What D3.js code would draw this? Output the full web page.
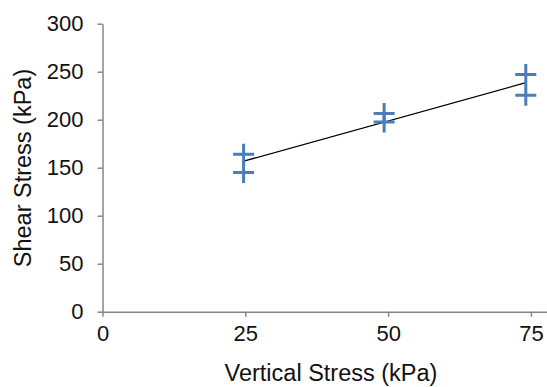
<!DOCTYPE html>
<html>
<head>
<meta charset="utf-8">
<script src="https://cdnjs.cloudflare.com/ajax/libs/d3/7.8.5/d3.min.js"></script>
<style>
  body { margin: 0; background: #fff; }
  svg { display: block; font-family: 'Liberation Sans', Arial, sans-serif; }
  .axis path, .axis line { stroke: #868686; stroke-width: 1.5px; }
  .axis text { fill: #111; font-size: 22px; }
  .title { fill: #111; font-size: 23.5px; }
</style>
</head>
<body>
<svg></svg>
<script>
// readings from the reference
const verticalStress = [24.7, 24.7, 49.3, 49.3, 74.1, 74.1]
const shearStress = [164, 145, 206.5, 197.5, 247, 225.5]
const xTicks = [0, 25, 50, 75]
const yTicks = [0, 50, 100, 150, 200, 250, 300]

const width = 547,
  height = 387

const svg = d3.select('svg')
  .attr('width', width)
  .attr('height', height)

const x = d3.scaleLinear()
  .domain([0, 80])
  .range([102.5, 559.5])

const y = d3.scaleLinear()
  .domain([0, 300])
  .range([311.7, 23.7])

// axes
svg.append('g')
  .attr('class', 'axis')
  .attr('transform', `translate(0,${y(0)})`)
  .call(d3.axisBottom(x).tickValues(xTicks).tickSize(5).tickSizeOuter(0).tickPadding(9))

svg.append('g')
  .attr('class', 'axis')
  .attr('transform', `translate(${x(0)},0)`)
  .call(d3.axisLeft(y).tickValues(yTicks).tickSize(5).tickSizeOuter(0).tickPadding(14))

// linear trendline (least squares on the points)
const n = verticalStress.length
const mx = d3.mean(verticalStress), my = d3.mean(shearStress)
let sxy = 0, sxx = 0
for (let i = 0; i < n; i++) {
  sxy += (verticalStress[i] - mx) * (shearStress[i] - my)
  sxx += (verticalStress[i] - mx) ** 2
}
const slope = sxy / sxx,
  intercept = my - slope * mx
const xEnds = d3.extent(verticalStress)

svg.append('path')
  .datum(xEnds.map(v => [v, intercept + slope * v]))
  .attr('fill', 'none')
  .attr('stroke', '#000')
  .attr('stroke-width', 1.3)
  .attr('d', d3.line().x(d => x(d[0])).y(d => y(d[1])))

// plus markers
const arm = 10.5
const pts = svg.append('g')
  .selectAll('g')
  .data(verticalStress.map((v, i) => [v, shearStress[i]]))
  .enter().append('g')
  .attr('transform', d => `translate(${x(d[0])},${y(d[1])})`)

pts.append('path')
  .attr('d', `M${-arm},0H${arm}M0,${-arm}V${arm}`)
  .attr('stroke', '#4A7EBB')
  .attr('stroke-width', 3)

// axis titles
svg.append('text')
  .attr('class', 'title')
  .attr('x', 331)
  .attr('y', 381)
  .attr('text-anchor', 'middle')
  .text('Vertical Stress (kPa)')

svg.append('text')
  .attr('class', 'title')
  .attr('transform', 'translate(31,168) rotate(-90)')
  .attr('text-anchor', 'middle')
  .text('Shear Stress (kPa)')
</script>
</body>
</html>
